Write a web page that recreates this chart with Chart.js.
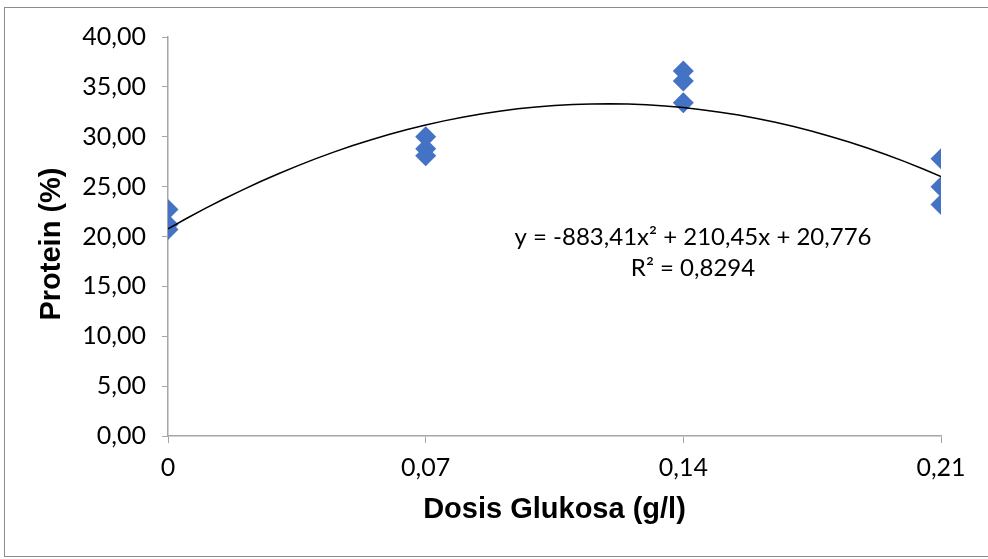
<!DOCTYPE html>
<html>
<head>
<meta charset="utf-8">
<script src="https://cdn.jsdelivr.net/npm/chart.js@4.4.1/dist/chart.umd.min.js"></script>
<style>
  html, body { margin: 0; padding: 0; background: #fff; }
  #wrap { position: relative; width: 988px; height: 559px; }
</style>
</head>
<body>
<div id="wrap"><canvas id="c" width="988" height="559"></canvas></div>
<script>
// ---- data ----
const doseLevels = [0, 0.07, 0.14, 0.21];          // g/l
const replicate1 = [22.7, 30.0, 36.6, 27.8];       // protein %
const replicate2 = [21.2, 28.8, 35.6, 25.0];
const replicate3 = [20.7, 28.1, 33.4, 23.2];
const xTickValues = [0, 0.07, 0.14, 0.21];
const xTickLabels = ['0', '0,07', '0,14', '0,21'];
// fitted polynomial shown on the chart: y = a x^2 + b x + c
const trendCoefficients = [-883.41, 210.45, 20.776];
const equationLines = ['y = -883,41x\u00B2 + 210,45x + 20,776', 'R\u00B2 = 0,8294'];
const xTitle = 'Dosis Glukosa (g/l)';
const yTitle = 'Protein (%)';

const points = [];
[replicate1, replicate2, replicate3].forEach(rep => {
  rep.forEach((v, i) => points.push({ x: doseLevels[i], y: v }));
});

const trendPoints = [];
for (let k = 0; k <= 42; k++) {
  const x = 0.21 * k / 42;
  const [a, b, c] = trendCoefficients;
  trendPoints.push({ x: x, y: a * x * x + b * x + c });
}

const FONT = 'Lato, "Open Sans", sans-serif';

const framePlugin = {
  id: 'frame',
  beforeDraw(chart) {
    const ctx = chart.ctx;
    ctx.save();
    ctx.fillStyle = '#fff';
    ctx.fillRect(0, 0, chart.width, chart.height);
    ctx.strokeStyle = '#8c8c8c';
    ctx.lineWidth = 1;
    ctx.strokeRect(4.5, 7.5, 995, 549);
    ctx.restore();
  },
  afterDraw(chart) {
    const ctx = chart.ctx;
    ctx.save();
    // y axis title
    ctx.translate(52, 244);
    ctx.rotate(-Math.PI / 2);
    ctx.font = 'bold 29px "Liberation Sans", Arial, sans-serif';
    ctx.fillStyle = '#000';
    ctx.textAlign = 'center';
    ctx.textBaseline = 'middle';
    ctx.fillText(yTitle, 0, 0);
    ctx.restore();
    // equation
    ctx.save();
    ctx.font = '24px ' + FONT;
    ctx.fillStyle = '#000';
    ctx.textAlign = 'center';
    ctx.textBaseline = 'middle';
    ctx.fillText(equationLines[0], 693, 237);
    ctx.fillText(equationLines[1], 693, 268);
    ctx.restore();
  }
};

new Chart(document.getElementById('c'), {
  type: 'scatter',
  data: {
    datasets: [
      {
        label: 'Protein',
        data: points,
        pointStyle: 'rectRot',
        pointRadius: 10.5,
        pointHoverRadius: 10.5,
        backgroundColor: '#4472C4',
        borderColor: '#4472C4',
        borderWidth: 0,
        order: 2
      },
      {
        label: 'Poly. trend',
        type: 'line',
        data: trendPoints,
        showLine: true,
        borderColor: '#000',
        borderWidth: 1.5,
        pointRadius: 0,
        tension: 0,
        fill: false,
        order: 1
      }
    ]
  },
  options: {
    responsive: false,
    animation: false,
    layout: { padding: { left: 0, top: 37, right: 47, bottom: 0 } },
    plugins: { legend: { display: false }, tooltip: { enabled: false } },
    scales: {
      x: {
        type: 'linear',
        min: 0, max: 0.21,
        afterFit(s) { s.height = 123; },
        afterBuildTicks(s) { s.ticks = xTickValues.map(v => ({ value: v })); },
        grid: { drawOnChartArea: false, drawTicks: true, tickLength: 7, color: '#a6a6a6', tickColor: '#a6a6a6' },
        border: { color: '#a6a6a6', width: 1.5 },
        ticks: {
          color: '#000',
          font: { family: FONT, size: 25 },
          padding: 10,
          maxRotation: 0,
          callback: (v, i) => xTickLabels[i]
        },
        title: {
          display: true,
          text: xTitle,
          color: '#000',
          font: { family: '"Liberation Sans", Arial, sans-serif', size: 29, weight: 'bold' },
          padding: { top: 0, bottom: 32 }
        }
      },
      y: {
        min: 0, max: 40,
        afterFit(s) { s.width = 168; },
        grid: { drawOnChartArea: false, drawTicks: true, tickLength: 6, color: '#a6a6a6', tickColor: '#a6a6a6' },
        border: { color: '#a6a6a6', width: 1.5 },
        ticks: {
          stepSize: 5,
          color: '#000',
          font: { family: FONT, size: 25 },
          padding: 16,
          callback: v => v.toFixed(2).replace('.', ',')
        }
      }
    }
  },
  plugins: [framePlugin]
});
</script>
</body>
</html>
